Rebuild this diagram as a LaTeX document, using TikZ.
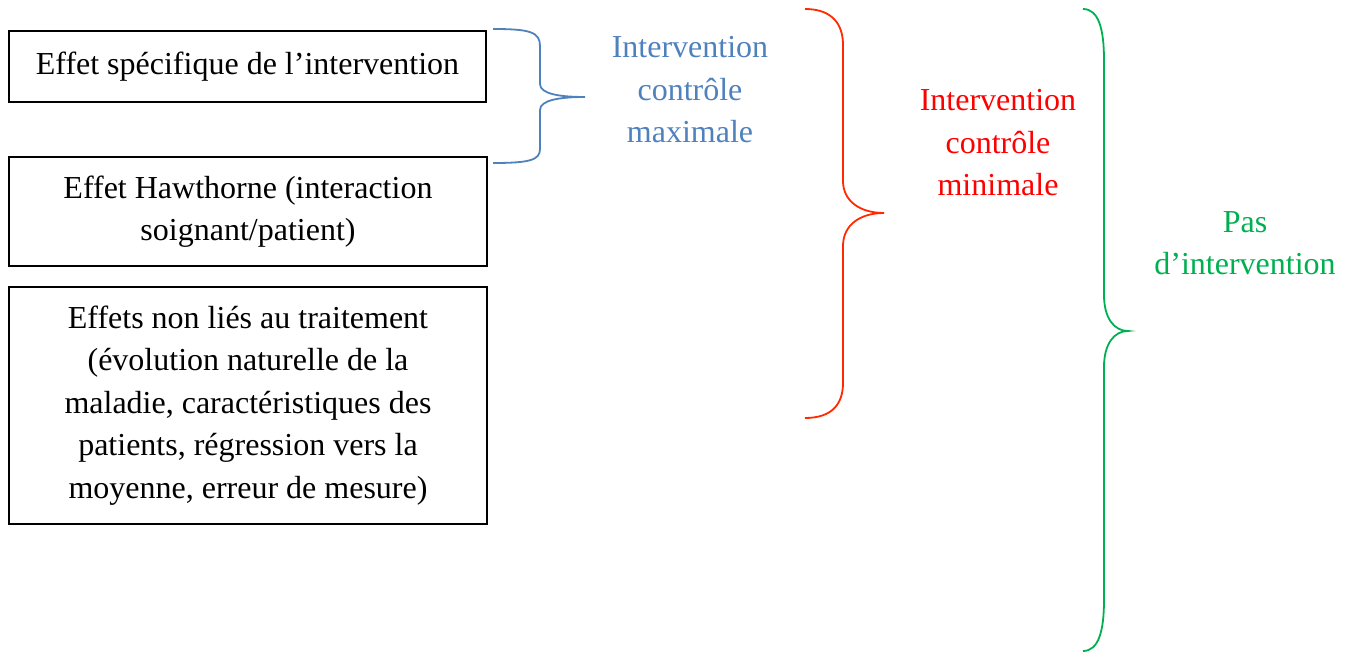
\documentclass[tikz,border=0pt]{standalone}
\usepackage{fontspec}
\setmainfont{Liberation Serif}
\definecolor{bblue}{HTML}{4F81BD}
\definecolor{rred}{HTML}{FF0000}
\definecolor{rbrace}{HTML}{FF2A00}
\definecolor{ggreen}{HTML}{00B050}
\tikzset{
  effbox/.style={draw=black, line width=1.5pt, align=center, inner sep=0pt,
    font=\fontsize{32}{42.5}\selectfont},
  lbl/.style={align=center, inner sep=0pt, font=\fontsize{32}{42.5}\selectfont},
  brace/.style={line width=1.8pt}
}
\begin{document}
\begin{tikzpicture}[x=1pt,y=-1pt]
\useasboundingbox (0,0) rectangle (1353,652);
\node[effbox, minimum width=477pt, minimum height=71pt] (b1) at (247.5,66.5) {Effet spécifique de l’intervention};
\node[effbox, minimum width=478pt, minimum height=109pt] (b2) at (248,211.5) {Effet Hawthorne (interaction\\soignant/patient)};
\node[effbox, minimum width=478pt, minimum height=237pt] (b3) at (248,405.5) {Effets non liés au traitement\\(évolution naturelle de la\\maladie, caractéristiques des\\patients, régression vers la\\moyenne, erreur de mesure)};
% braces
\coordinate (bt) at (493,29);
\coordinate (bb) at (493,163);
\coordinate (btip) at (585,97);
\draw[brace, bblue] (bt) .. controls (530,29) and (540,32) .. (540,46) -- (540,84) .. controls (540,94) and (560,97) .. (btip) .. controls (560,97) and (540,100) .. (540,110) -- (540,149) .. controls (540,160) and (530,163) .. (bb);
\coordinate (rt) at (805,9);
\coordinate (rb) at (805,418);
\coordinate (rtip) at (884,213);
\draw[brace, rbrace] (rt) .. controls (832,9) and (843,24) .. (843,45) -- (843,181) .. controls (843,201) and (860,213) .. (rtip) .. controls (860,213) and (843,225) .. (843,246) -- (843,383) .. controls (843,404) and (832,418) .. (rb);
\coordinate (gt) at (1083,9);
\coordinate (gb) at (1083,651);
\coordinate (gtip) at (1128,331);
\draw[brace, ggreen] (gt) .. controls (1099,9) and (1104,30) .. (1104,60) -- (1104,295) .. controls (1104,318) and (1114,331) .. (gtip) .. controls (1114,331) and (1104,344) .. (1104,367) -- (1104,600) .. controls (1104,630) and (1099,651) .. (gb);
% labels
\node[lbl, text=bblue] (lmax) at (690,90) {Intervention\\contrôle\\maximale};
\node[lbl, text=rred] (lmin) at (998,143) {Intervention\\contrôle\\minimale};
\node[lbl, text=ggreen] (lpas) at (1245,243) {Pas\\d’intervention};
\end{tikzpicture}
\end{document}
